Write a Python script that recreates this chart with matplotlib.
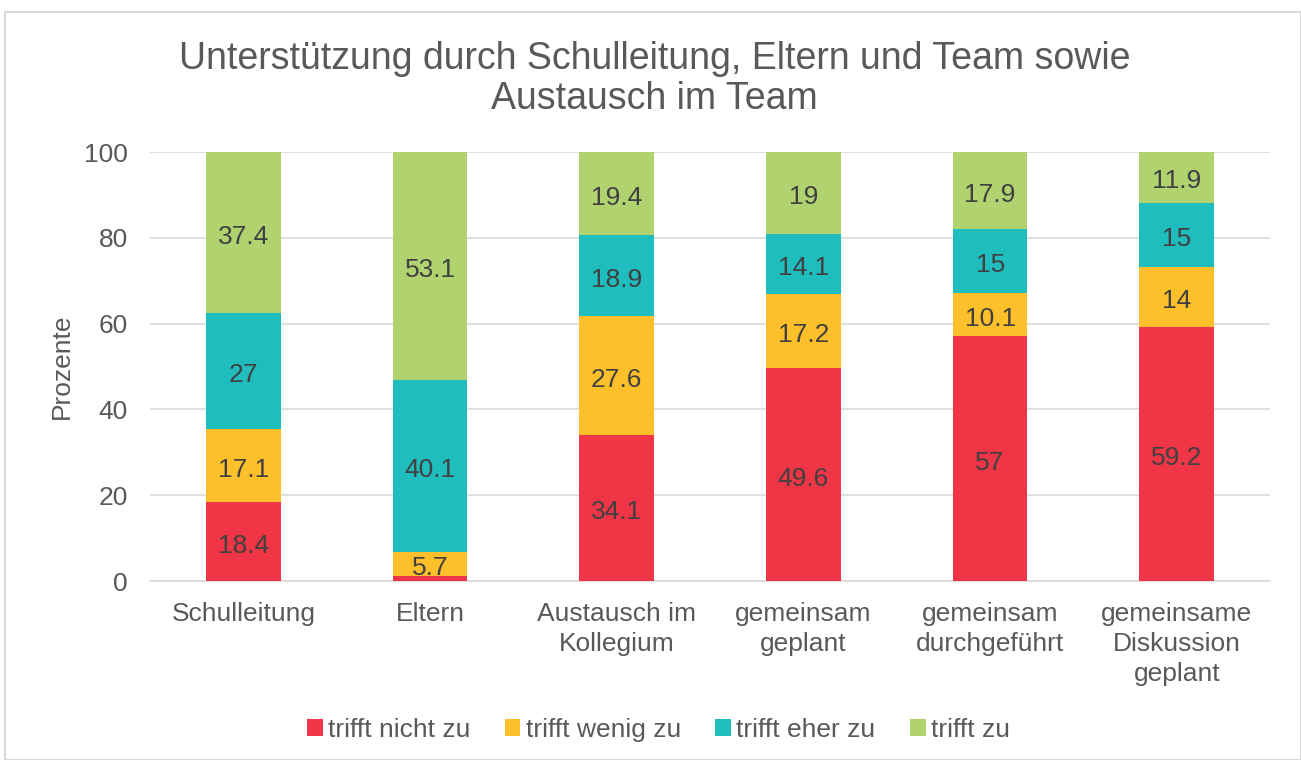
import numpy as np
import matplotlib.pyplot as plt
from matplotlib.patches import Rectangle

plt.rcParams['font.family'] = ['Liberation Sans', 'DejaVu Sans']

kategorien = ['Schulleitung', 'Eltern', 'Austausch im\nKollegium', 'gemeinsam\ngeplant',
              'gemeinsam\ndurchgeführt', 'gemeinsame\nDiskussion\ngeplant']
nicht_zu = [18.4, 1.1, 34.1, 49.6, 57, 59.2]
wenig_zu = [17.1, 5.7, 27.6, 17.2, 10.1, 14]
eher_zu = [27, 40.1, 18.9, 14.1, 15, 15]
trifft_zu = [37.4, 53.1, 19.4, 19, 17.9, 11.9]

serien = [('trifft nicht zu', nicht_zu, '#EF3546'),
          ('trifft wenig zu', wenig_zu, '#FDC02B'),
          ('trifft eher zu', eher_zu, '#1FBDBE'),
          ('trifft zu', trifft_zu, '#B1D36F')]

fig = plt.figure(figsize=(13.01, 7.6), dpi=100)
ax = fig.add_axes([0.1153, 0.2355, 0.861, 0.5645])

# Rahmen um das Diagramm
fig.patches.append(Rectangle((5 / 1301, 0), 1 - 5 / 1301, 1 - 12 / 760, transform=fig.transFigure,
                             fill=False, edgecolor='#D9D9D9', linewidth=1.5))

x = np.arange(len(kategorien))
unten = np.zeros(len(kategorien))
for name, werte, farbe in serien:
    werte = np.array(werte, dtype=float)
    ax.bar(x, werte, 0.4, bottom=unten, color=farbe, label=name, zorder=3)
    for xi, b, w in zip(x, unten, werte):
        if w >= 3:
            ax.annotate('%g' % w, (xi, b + w / 2), xytext=(0, -3), textcoords='offset points',
                        ha='center', va='center', fontsize=19, color='#404040', zorder=4)
    unten += werte

ax.set_xlim(-0.5, len(kategorien) - 0.5)
ax.set_ylim(0, 100)
ax.set_yticks([0, 20, 40, 60, 80, 100])
ax.set_xticks(x)
ax.set_xticklabels(kategorien, fontsize=19, color='#595959', linespacing=1.32)
ax.tick_params(axis='y', length=0, labelsize=19, labelcolor='#595959', pad=16)
ax.tick_params(axis='x', length=0, pad=15)
ax.grid(axis='y', color='#D9D9D9', linewidth=1.2, zorder=0)
for s in ['top', 'right', 'left']:
    ax.spines[s].set_visible(False)
ax.spines['bottom'].set_color('#D9D9D9')
ax.spines['bottom'].set_linewidth(1.2)
ax.set_ylabel('Prozente', fontsize=19, color='#595959', labelpad=7)

fig.text(0.503, 0.896, 'Unterstützung durch Schulleitung, Eltern und Team sowie\nAustausch im Team',
         ha='center', va='center', fontsize=27, color='#595959', linespacing=1.15)

fig.legend(loc='center', bbox_to_anchor=(0.506, 0.040), ncol=4, frameon=False, fontsize=19,
           handlelength=0.6, handleheight=0.6, handletextpad=0.2, columnspacing=1.3,
           labelcolor='#595959')

fig.savefig('out.png', dpi=100)
